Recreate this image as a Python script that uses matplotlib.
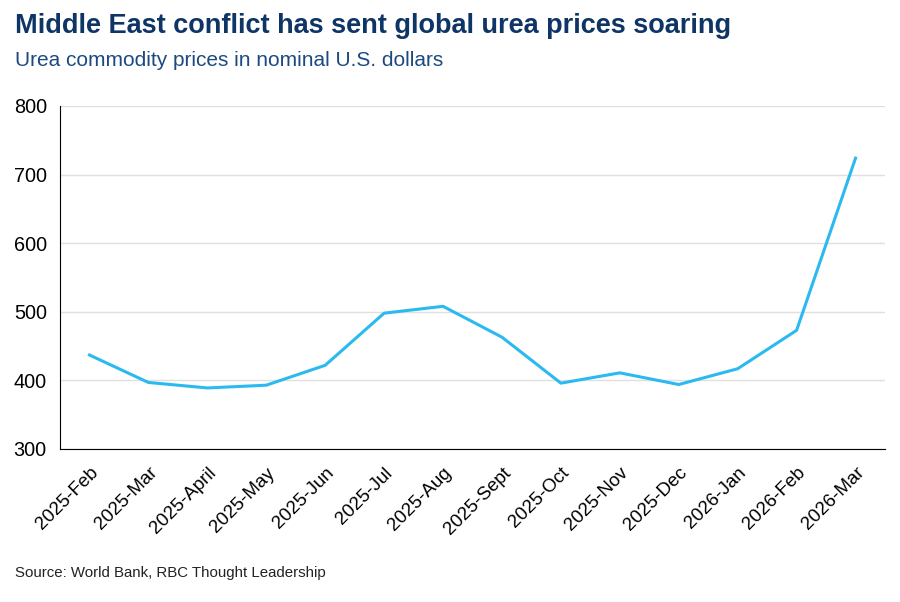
import matplotlib
matplotlib.use("Agg")
import matplotlib.pyplot as plt

plt.rcParams['font.family'] = ['Liberation Sans', 'DejaVu Sans']

months = ['2025-Feb', '2025-Mar', '2025-April', '2025-May', '2025-Jun', '2025-Jul',
          '2025-Aug', '2025-Sept', '2025-Oct', '2025-Nov', '2025-Dec', '2026-Jan',
          '2026-Feb', '2026-Mar']
urea = [437, 397, 389, 393, 422, 498, 508, 463, 396, 411, 394, 417, 473, 724]
yticks = [300, 400, 500, 600, 700, 800]

fig = plt.figure(figsize=(9, 6.02), dpi=100)
ax = fig.add_axes([60/900, 1 - 449/602, 825/900, 343/602])

ax.plot(range(len(months)), urea, color='#2bbaf0', lw=2.2)

ax.set_xlim(-0.5, len(months) - 0.5)
ax.set_ylim(300, 800)
ax.set_yticks(yticks)
ax.set_xticks(range(len(months)))
ax.set_xticklabels(months, rotation=45, ha='right', rotation_mode='anchor', fontsize=13.5)
ax.tick_params(axis='y', labelsize=14.3, length=0, pad=9.5)
ax.tick_params(axis='x', length=0, pad=11)
ax.grid(axis='y', color='#e0e0e0', lw=1)
ax.set_axisbelow(True)
for s in ['top', 'right']:
    ax.spines[s].set_visible(False)
ax.spines['left'].set_color('black')
ax.spines['bottom'].set_color('black')

fig.text(15/900, 1 - 26/602, 'Middle East conflict has sent global urea prices soaring',
         fontsize=19.5, fontweight='bold', color='#0f3566', va='center', ha='left')
fig.text(15/900, 1 - 61/602, 'Urea commodity prices in nominal U.S. dollars',
         fontsize=15, color='#1c4a80', va='center', ha='left')
fig.text(15/900, 1 - 573/602, 'Source: World Bank, RBC Thought Leadership',
         fontsize=10.8, color='#222222', va='center', ha='left')

fig.savefig('out.png', dpi=100)
